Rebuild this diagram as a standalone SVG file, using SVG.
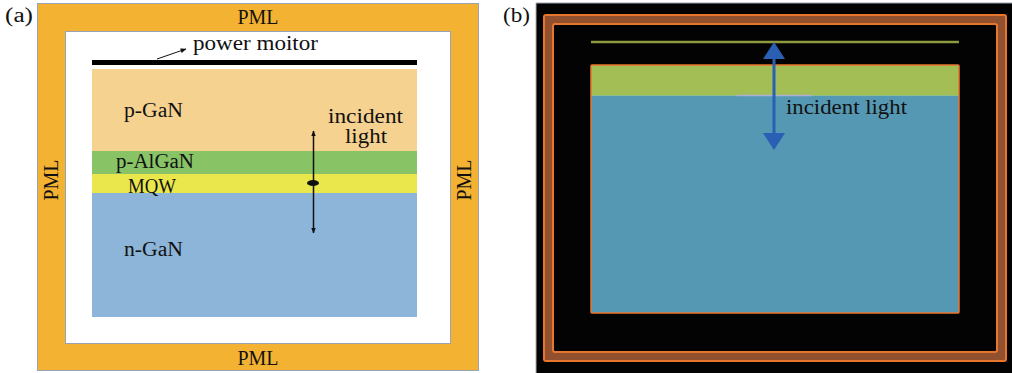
<svg xmlns="http://www.w3.org/2000/svg" width="1012" height="373" viewBox="0 0 1012 373">
  <style>
    text { font-family: "Liberation Serif", "DejaVu Serif", serif; font-size: 20px; fill: #111; }
    .pml { fill: #F4B232; stroke: #9AA3B5; stroke-width: 1; }
    .frame { fill: #FFFFFF; stroke: #9AA3B5; stroke-width: 1; }
    .ring { fill: none; stroke: #E8772E; stroke-width: 2; }
  </style>
  <defs>
    <marker id="tip" viewBox="0 0 10 10" refX="9" refY="5" markerWidth="6" markerHeight="6" orient="auto-start-reverse" markerUnits="userSpaceOnUse">
      <path d="M0,1 L10,5 L0,9 Z" fill="#111"/>
    </marker>
  </defs>
  <rect width="1012" height="373" fill="#FFFFFF"/>

  <!-- (a) simulation domain -->
  <text x="5" y="22" textLength="28" lengthAdjust="spacingAndGlyphs">(a)</text>
  <g id="pml-a">
    <rect class="pml" x="37.5" y="3.5" width="441" height="367"/>
    <rect class="frame" x="65.5" y="31.5" width="385" height="312"/>
    <text x="258" y="24" text-anchor="middle" textLength="41" lengthAdjust="spacingAndGlyphs">PML</text>
    <text x="258" y="365" text-anchor="middle" textLength="41" lengthAdjust="spacingAndGlyphs">PML</text>
    <text transform="translate(58,180) rotate(-90)" text-anchor="middle" textLength="41" lengthAdjust="spacingAndGlyphs">PML</text>
    <text transform="translate(471,180) rotate(-90)" text-anchor="middle" textLength="41" lengthAdjust="spacingAndGlyphs">PML</text>
  </g>
  <g id="monitor-a">
    <rect x="92" y="60" width="325" height="5" fill="#000"/>
    <text x="193" y="50" textLength="125" lengthAdjust="spacingAndGlyphs">power moitor</text>
  </g>
  <g id="p-gan">
    <rect x="92" y="69" width="325" height="82" fill="#F6D290"/>
    <text x="124" y="117" textLength="59" lengthAdjust="spacingAndGlyphs">p-GaN</text>
  </g>
  <g id="p-algan">
    <rect x="92" y="151" width="325" height="23" fill="#88C466"/>
    <text x="116" y="168" textLength="78" lengthAdjust="spacingAndGlyphs">p-AlGaN</text>
  </g>
  <g id="mqw">
    <rect x="92" y="174" width="325" height="19" fill="#EAE74C"/>
  </g>
  <g id="n-gan">
    <rect x="92" y="193" width="325" height="124" fill="#8CB5D9"/>
    <text x="124" y="256" textLength="59" lengthAdjust="spacingAndGlyphs">n-GaN</text>
  </g>
  <text x="128" y="193" textLength="48" lengthAdjust="spacingAndGlyphs">MQW</text>
  <g id="source-a">
    <ellipse cx="313" cy="183" rx="6" ry="3" fill="#111"/>
    <text x="328" y="123" textLength="75" lengthAdjust="spacingAndGlyphs">incident</text>
    <text x="345" y="143" textLength="42" lengthAdjust="spacingAndGlyphs">light</text>
  </g>
  <g id="connectors-a" stroke="#111" stroke-width="1.5" fill="none">
    <line x1="313.5" y1="183" x2="313.5" y2="131" marker-end="url(#tip)"/>
    <line x1="313.5" y1="183" x2="313.5" y2="233" marker-end="url(#tip)"/>
    <line x1="157" y1="59" x2="186" y2="49" stroke-width="1" marker-end="url(#tip)"/>
  </g>

  <!-- (b) field view -->
  <text x="503" y="22" textLength="27" lengthAdjust="spacingAndGlyphs">(b)</text>
  <g id="domain-b">
    <rect x="536" y="3" width="476" height="370" fill="#030303"/>
    <line x1="536" y1="3" x2="1012" y2="3" stroke="#9AA3B5" stroke-width="1"/>
    <line x1="536" y1="3" x2="536" y2="373" stroke="#B0B0B0" stroke-width="1"/>
  </g>
  <g id="pml-b">
    <rect x="548.5" y="19.5" width="453" height="337" fill="none" stroke="#92502E" stroke-width="9"/>
    <rect class="ring" x="544" y="15" width="462" height="346" rx="2"/>
    <rect class="ring" x="553" y="24" width="444" height="328" rx="2"/>
  </g>
  <g id="monitor-b">
    <line x1="591" y1="42" x2="959" y2="42" stroke="#8E9A3C" stroke-width="2.5"/>
  </g>
  <g id="device-b">
    <rect x="591" y="65" width="368" height="31" fill="#A2BE55"/>
    <rect x="591" y="96" width="368" height="217" fill="#5598B3"/>
    <line x1="591" y1="95.5" x2="959" y2="95.5" stroke="#8BC08A" stroke-width="1"/>
    <line x1="737" y1="95.5" x2="812" y2="95.5" stroke="#B1AED6" stroke-width="1.5"/>
    <rect x="591" y="65" width="368" height="248" fill="none" stroke="#E8772E" stroke-width="1.5" rx="1"/>
  </g>
  <g id="connectors-b" fill="#2B5FB3">
    <rect x="772.5" y="55" width="3" height="82"/>
    <path d="M774,42 L785,59 L763,59 Z"/>
    <path d="M774,150 L785,133 L763,133 Z"/>
  </g>
  <text x="786" y="114" textLength="121" lengthAdjust="spacingAndGlyphs">incident light</text>
</svg>
